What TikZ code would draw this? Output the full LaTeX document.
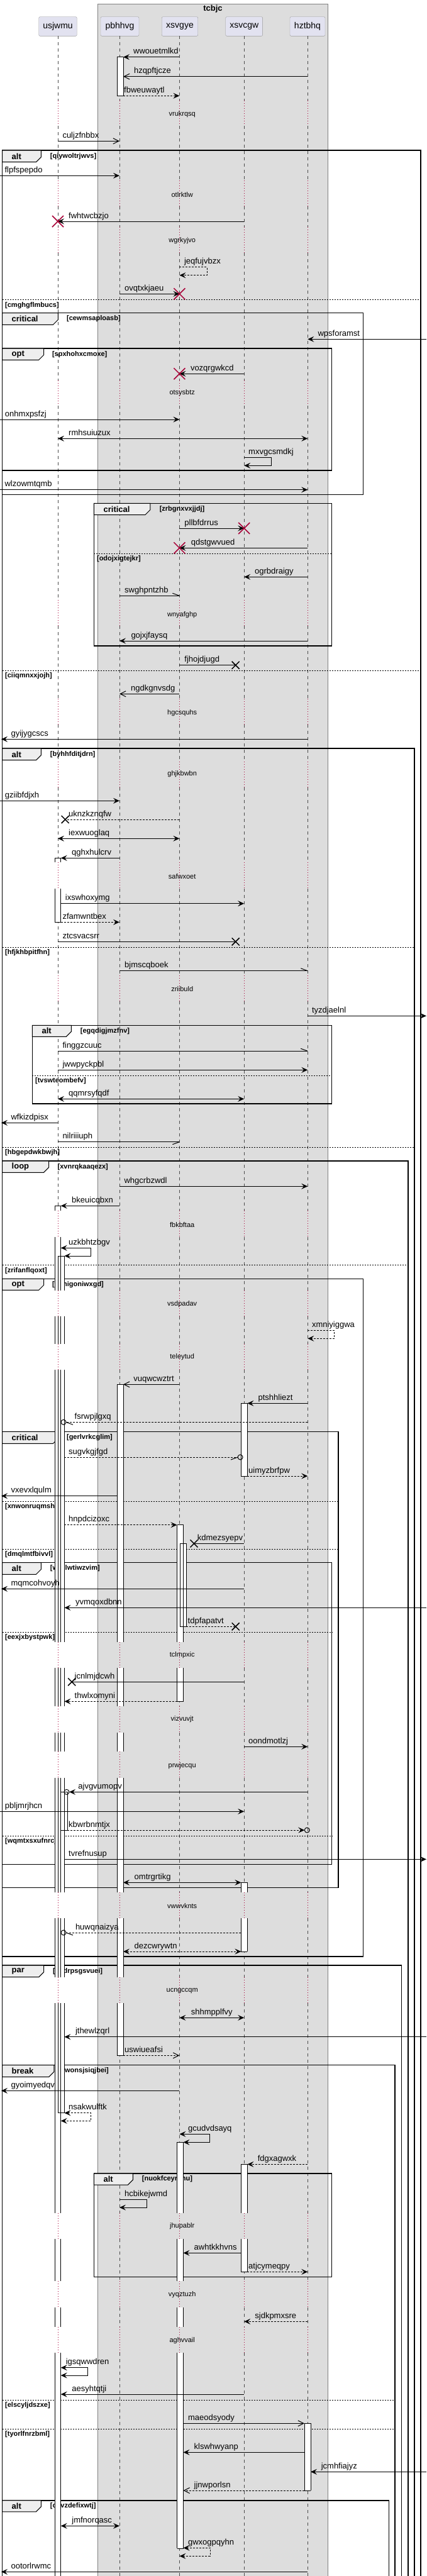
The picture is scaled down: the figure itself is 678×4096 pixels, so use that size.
\documentclass[tikz,border=0pt]{standalone}
\usepackage{fontspec}
\setmainfont{Liberation Sans}
\usetikzlibrary{arrows.meta}
\definecolor{lifered}{HTML}{A80036}
\definecolor{grpgray}{HTML}{DDDDDD}
\definecolor{partfill}{HTML}{E2E2F0}
\definecolor{tabfill}{HTML}{EEEEEE}
\tikzset{
  msgline/.style={line width=1pt},
  fhead/.style={-{Stealth[length=10pt,width=9pt,inset=4pt]}},
  fboth/.style={{Stealth[length=10pt,width=9pt,inset=4pt]}-{Stealth[length=10pt,width=9pt,inset=4pt]}},
  ohead/.style={-{Straight Barb[length=9pt,width=9pt]}},
  dsh/.style={dash pattern=on 3pt off 2pt},
  msgtext/.style={font=\fontsize{13}{15}\selectfont, anchor=base west, inner sep=0pt},
  delaytext/.style={font=\fontsize{11}{13}\selectfont, inner sep=0pt},
  condtext/.style={font=\bfseries\fontsize{11}{13}\selectfont, anchor=west, inner sep=0pt},
  kwtext/.style={font=\bfseries\fontsize{13}{15}\selectfont, anchor=west, inner sep=0pt},
  partbox/.style={draw=gray!80, fill=partfill, rounded corners=2pt, minimum height=30.6pt, inner xsep=6.5pt, font=\fontsize{14}{16}\selectfont},
  lifedash/.style={gray!60!black, line width=0.8pt, dash pattern=on 5pt off 5pt},
  lifedot/.style={lifered, line width=0.8pt, dash pattern=on 1pt off 3pt},
  frameline/.style={line width=1.5pt},
  tabshape/.style={fill=tabfill, draw=black, line width=1pt},
  sepline/.style={line width=0.8pt, dash pattern=on 2pt off 2pt},
  actline/.style={line width=0.8pt}
}
\newcommand{\xU}{92}
\newcommand{\xP}{190}
\newcommand{\xY}{285.4}
\newcommand{\xW}{388.2}
\newcommand{\xH}{489.3}
\newcommand{\msg}[6][]{\draw[msgline,#1] (#2,#4) -- (#3,#4); \node[msgtext] at (#5,#4-5) {#6};}
\newcommand{\selfmsg}[8][]{\draw[msgline,#1] (#2,#5) -- (#3,#5) -- (#3,#6) -- (#4,#6); \node[msgtext] at (#7,#5-5) {#8};}
\newcommand{\barb}[4]{\draw[msgline] (#1,#2) -- ++(#3,#4);}
\newcommand{\tipcircle}[2]{\draw[msgline] (#1,#2) circle[radius=4pt];}
\newcommand{\killx}[2]{\draw[lifered, line width=1.5pt] (#1-9,#2-9) -- (#1+9,#2+9) (#1-9,#2+9) -- (#1+9,#2-9);}
\newcommand{\lostx}[2]{\draw[line width=1.5pt] (#1-6,#2-6) -- (#1+6,#2+6) (#1-6,#2+6) -- (#1+6,#2-6);}
\newcommand{\frm}[9]{\draw[frameline] (#1,#2) rectangle (#3,#4);
  \draw[tabshape] (#1,#2) -- (#5,#2) -- (#5,#6-8) -- (#5-8,#6) -- (#1,#6) -- cycle;
  \node[kwtext] at (#1+15,{(#2+#6)/2}) {#7};
  \node[condtext] at (#8,{(#2+#6)/2}) {#9};}
\newcommand{\elsesep}[4]{\draw[sepline] (#1,#3) -- (#2,#3); \node[condtext] at (#1+4.5,#3+8.5) {#4};}
\def\liveparts{57.3/160, 200/287, 328/361, 402/605, 645/954, 995/1111, 1152/1211, 1252/1371, 1413/1551, 1592/1925, 1966.7/2052, 2092.7/2137, 2178/2610.7, 2652.3/2713.3, 2755/2785.3, 2826.7/3008.7, 3050/3143.7, 3185.3/3519, 3560/3627.3, 3669/3700, 3741/4100}
\def\delayparts{160/200, 287/328, 361/402, 605/645, 954/995, 1111/1152, 1211/1252, 1371/1413, 1551/1592, 1925/1966.7, 2052/2092.7, 2137/2178, 2610.7/2652.3, 2713.3/2755, 2785.3/2826.7, 3008.7/3050, 3143.7/3185.3, 3519/3560, 3627.3/3669, 3700/3741}
\def\actsegs{186/196/90.7/152.3, 87/96.7/1364.3/1371, 87/96.7/1413/1466.3,
  87/96.7/1917.3/1925, 87/96.7/1966.7/2052, 87/96.7/2092.7/2137, 87/96.7/2178/2610.7, 87/96.7/2652.3/2713.3, 87/96.7/2755/2785.3, 87/96.7/2826.7/3008.7, 87/96.7/3050/3143.7, 87/96.7/3185.3/3519, 87/96.7/3560/3627.3, 87/96.7/3669/3700, 87/96.7/3741/4100,
  92/102.4/1997/2052, 92/102.4/2092.7/2137, 92/102.4/2178/2610.7, 92/102.4/2652.3/2713.3, 92/102.4/2755/2785.3, 92/102.4/2826.7/3008.7, 92/102.4/3050/3143.7, 92/102.4/3185.3/3359.7,
  96.7/107.2/2849.3/2910,
  186/196/2201.3/2610.7, 186/196/2652.3/2713.3, 186/196/2755/2785.3, 186/196/2826.7/3008.7, 186/196/3050/3143.7, 186/196/3185.3/3268.3,
  383.4/393.4/2231.3/2347, 383.4/393.4/2993.3/3008.7, 383.4/393.4/3050/3103, 383.4/393.4/3441.3/3519, 383.4/393.4/3560/3612.3,
  281.5/291.5/2424.7/2610.7, 281.5/291.5/2652.3/2705.3, 286.3/296.3/2454.3/2586,
  281.5/291.5/3406.3/3519, 281.5/291.5/3560/3627.3, 281.5/291.5/3669/3700, 281.5/291.5/3741/4052,
  484/494/3853.3/3960}
\def\actcaps{186/196/90.7, 186/196/152.3, 87/96.7/1364.3, 87/96.7/1466.3, 87/96.7/1917.3, 92/102.4/1997, 92/102.4/3359.7, 96.7/107.2/2849.3, 96.7/107.2/2910, 186/196/2201.3, 186/196/3268.3, 383.4/393.4/2231.3, 383.4/393.4/2347, 383.4/393.4/2993.3, 383.4/393.4/3103, 383.4/393.4/3441.3, 383.4/393.4/3612.3, 281.5/291.5/2424.7, 281.5/291.5/2705.3, 286.3/296.3/2454.3, 286.3/296.3/2586, 281.5/291.5/3406.3, 281.5/291.5/4052, 484/494/3853.3, 484/494/3960}
\begin{document}
\begin{tikzpicture}[x=1pt,y=-1pt]
\useasboundingbox (0,0) rectangle (678,4096);
\clip (0,0) rectangle (678,4096);
\fill[white] (0,0) rectangle (678,4096);
\draw[gray, fill=grpgray] (155.5,6) rectangle (521.5,4120);
\node[font=\bfseries\fontsize{13}{15}\selectfont] (tcbjc) at (338.5,14.3) {tcbjc};
\node[partbox, minimum width=60pt] (usjwmu) at (92,42) {usjwmu};
\node[partbox, minimum width=61pt] (pbhhvg) at (190.5,42) {pbhhvg};
\node[partbox, minimum width=57.5pt] (xsvgye) at (286,42) {xsvgye};
\node[partbox, minimum width=58.4pt] (xsvcgw) at (388.2,42) {xsvcgw};
\node[partbox, minimum width=56pt] (hztbhq) at (489,42) {hztbhq};
\foreach \lx in {\xU,\xP,\xY,\xW,\xH}{
  \foreach \a/\b in \liveparts {\draw[lifedash] (\lx,\a) -- (\lx,\b);}
  \foreach \a/\b in \delayparts {\draw[lifedot] (\lx,\a) -- (\lx,\b);}
}
\frm{3.5}{239}{668.8}{4120}{65.4}{257.7}{alt}{79.7}{[qiywoltrjwvs]}
\elsesep{3.5}{668.8}{476.7}{[cmghgflmbucs]}
\elsesep{3.5}{668.8}{1066.3}{[ciiqmnxxjojh]}
\frm{3.5}{497.7}{577.3}{786.3}{92.4}{516.3}{critical}{105.9}{[cewmsaploasb]}
\frm{3.5}{554}{527.6}{748}{69.7}{572.3}{opt}{82.8}{[spxhohxcmoxe]}
\frm{149.4}{800.3}{527.6}{1027}{238.8}{818.7}{critical}{253.6}{[zrbgnxvxjjdj]}
\elsesep{149.4}{527.6}{880.3}{[odojxigtejkr]}
\frm{3.5}{1190}{658.8}{4120}{65.4}{1208.7}{alt}{79.7}{[byhhfditjdrn]}
\elsesep{3.5}{658.8}{1506}{[hfjkhbpitfhn]}
\elsesep{3.5}{658.8}{1824.3}{[hbgepdwkbwjh]}
\frm{51.4}{1630.3}{527.6}{1755}{113.3}{1648.3}{alt}{127.7}{[egqdigjmzfnv]}
\elsesep{51.4}{527.6}{1710.5}{[tvswteombefv]}
\frm{3.5}{1846}{649.2}{4120}{77.6}{1864.3}{loop}{91.5}{[xvnrqkaaqezx]}
\elsesep{3.5}{649.2}{2011.7}{[zrifanflqoxt]}
\frm{3.5}{2033.3}{577.3}{3111}{69.7}{2051.3}{opt}{82.8}{[tmnigoniwxgd]}
\frm{3.5}{2276.3}{538}{3001.3}{92.4}{2295.3}{critical}{105.9}{[gerlvrkcglim]}
\elsesep{3.5}{538}{2387}{[xnwonruqmshd]}
\elsesep{3.5}{538}{2463.3}{[dmqlmtfbivvl]}
\frm{3.5}{2484.7}{527.6}{2964.3}{65.4}{2503.3}{alt}{79.7}{[wszlwtiwzvim]}
\elsesep{3.5}{527.6}{2595}{[eexjxbystpwk]}
\elsesep{3.5}{527.6}{2919}{[wqmtxsxufnrc]}
\frm{3.5}{3125}{638.3}{4120}{69.7}{3143.7}{par}{84}{[bsdrpsgsvuei]}
\frm{3.5}{3283.7}{627.9}{4120}{85.8}{3302.3}{break}{99.3}{[wonsjsiqjbei]}
\elsesep{3.5}{627.9}{3816}{[elscyljdszxe]}
\elsesep{3.5}{627.9}{3862}{[tyorlfnrzbml]}
\frm{149.4}{3456}{527.6}{3620.3}{211.3}{3474}{alt}{225.7}{[nuokfceyrbnu]}
\frm{3.5}{3975.7}{618.7}{4120}{65.4}{3993.7}{alt}{79.7}{[cgvzdefixwtj]}
\foreach \l/\r/\a/\b in \actsegs {\fill[white] (\l,\a) rectangle (\r,\b);}
\foreach \l/\r/\a/\b in \actsegs {\draw[actline] (\l,\a) -- (\l,\b) (\r,\a) -- (\r,\b);}
\foreach \l/\r/\a in \actcaps {\draw[actline] (\l,\a) -- (\r,\a);}
\foreach \t/\y in {vrukrqsq/181.7, otlrktlw/309.3, wgrkyjvo/382.7, otsysbtz/624.3, wnyafghp/977.3, hgcsquhs/1133.3, ghjkbwbn/1230.3, safwxoet/1394, zriibuld/1573, fbkbftaa/1947.3, vsdpadav/2073.3, teleytud/2158, tclmpxic/2632, vizvuvjt/2734, prwjecqu/2807.3, vwwvknts/3030.3, ucngccqm/3165.3, jhupablr/3540, vyqztuzh/3649, aghvvail/3721.3}
  {\node[delaytext] at (289.7,\y) {\t};}
\msg[fhead]{\xY}{196}{90.7}{212}{wwouetmlkd}
\msg[ohead]{\xH}{196}{121.7}{213}{hzqpftjcze}
\msg[fhead,dsh]{196}{\xY}{152.3}{197}{fbweuwaytl}
\msg[ohead]{\xU}{\xP}{224.3}{99.3}{culjzfnbbx}
\msg[fhead]{0}{\xP}{279.3}{7.4}{flpfspepdo}
\msg[fhead]{\xW}{\xU}{352}{109}{fwhtwcbzjo} \killx{\xU}{352}
\selfmsg[fhead,dsh]{\xY}{329}{\xY}{424.3}{437.7}{292.8}{jeqfujvbzx}
\msg[fhead]{\xP}{\xY}{467.3}{198}{ovqtxkjaeu} \killx{\xY}{467.3}
\msg[fhead]{678}{\xH}{539.3}{505.4}{wpsforamst}
\msg[fhead]{\xW}{\xY}{594.3}{302.8}{vozqrgwkcd} \killx{\xY}{594.3}
\msg[fhead]{0}{\xY}{667}{7.8}{onhmxpsfzj}
\msg[fboth]{\xU}{\xH}{697.3}{109}{rmhsuiuzux}
\selfmsg[fhead]{\xW}{431}{\xW}{727.3}{740.3}{395}{mxvgcsmdkj}
\msg[fhead]{0}{\xH}{778.7}{7.4}{wlzowmtqmb}
\msg[fhead]{\xY}{\xW}{840}{293.2}{pllbfdrrus} \killx{\xW}{840}
\msg[fhead]{\xH}{\xY}{871.3}{303.7}{qdstgwvued} \killx{\xY}{871.3}
\msg[fhead]{\xH}{\xW}{917.3}{405}{ogrbdraigy}
\msg{\xP}{\xY}{947.3}{198}{swghpntzhb} \barb{\xY}{947.3}{-11}{-4}
\msg[fhead]{\xH}{\xP}{1019}{208.3}{gojxjfaysq}
\msg{\xY}{374.7}{1057.7}{293.2}{fjhojdjugd} \lostx{374.7}{1057.7}
\msg[ohead]{\xY}{\xP}{1103.3}{208}{ngdkgnvsdg}
\msg[fhead]{\xH}{2}{1175.3}{17.4}{gyijygcscs}
\msg[fhead]{0}{\xP}{1273.3}{7.8}{gziibfdjxh}
\msg[dsh]{\xY}{103.7}{1303}{109}{uknzkznqfw} \lostx{103.7}{1303}
\msg[fboth]{\xU}{\xY}{1333.3}{109}{iexwuoglaq}
\msg[fhead]{\xP}{96.7}{1364.3}{114}{qghxhulcrv}
\msg[fhead]{96.7}{\xW}{1436.7}{103.7}{ixswhoxymg}
\msg[fhead,dsh]{96.7}{\xP}{1466.3}{99.3}{zfamwntbex}
\msg{\xU}{374.7}{1497.3}{99.3}{ztcsvacsrr} \lostx{374.7}{1497.3}
\msg{\xP}{\xH}{1543.7}{198}{bjmscqboek} \barb{\xH}{1543.7}{-11}{-4}
\msg[fhead]{\xH}{678}{1615.3}{495.8}{tyzdjaelnl}
\msg{\xU}{\xH}{1671.3}{99.3}{finggzcuuc} \barb{\xH}{1671.3}{-11}{-4}
\msg[fhead]{\xU}{\xH}{1701.3}{99.3}{jwwpyckpbl}
\msg[fboth]{\xU}{\xW}{1747.3}{109}{qqmrsyfqdf}
\msg[fhead]{\xU}{2}{1785.3}{17.4}{wfkizdpisx}
\msg{\xU}{\xY}{1815.7}{99.3}{nilriiiuph} \barb{\xY}{1815.7}{-11}{4}
\msg[fhead]{\xP}{\xH}{1886.3}{197.4}{whgcrbzwdl}
\msg[fhead]{\xP}{96.7}{1917.3}{114}{bkeuicqbxn}
\selfmsg[fboth]{96.7}{144.7}{102.4}{1984.3}{1997}{109}{uzkbhtzbgv}
\selfmsg[fhead,dsh]{\xH}{531.6}{\xH}{2115.3}{2128.3}{495.8}{xmniyiggwa}
\msg[ohead]{\xY}{196}{2201.3}{212.2}{vuqwcwztrt}
\msg[fhead]{\xH}{393.4}{2231.3}{410.4}{ptshhliezt}
\msg[dsh]{\xH}{105}{2261.3}{118.5}{fsrwpjlgxq} \barb{105}{2261.3}{11}{4} \tipcircle{101}{2261.3}
\msg[dsh]{102.4}{378.1}{2317}{109}{sugvkgjfgd} \barb{378.1}{2317}{-11}{4} \tipcircle{382.1}{2317}
\msg[fhead,dsh]{393.4}{\xH}{2347}{395}{uimyzbrfpw}
\msg[fhead]{186}{2}{2378.7}{17.4}{vxevxlqulm}
\msg[fhead,dsh]{102.4}{281.5}{2424.7}{109}{hnpdcizoxc}
\msg{\xW}{308.5}{2454.3}{313.7}{kdmezsyepv} \lostx{308.5}{2454.3}
\msg[fhead]{\xW}{2}{2526.3}{17.4}{mqmcohvoyh}
\msg[fhead]{678}{102.4}{2556.3}{119.8}{yvmqoxdbnn}
\msg[dsh]{296.3}{374.7}{2586.3}{298.5}{tdpfapatvt} \lostx{374.7}{2586.3}
\msg{\xW}{114.2}{2674.3}{118.5}{jcnlmjdcwh} \lostx{114.2}{2674.3}
\msg[fhead,dsh]{281.5}{102.4}{2705.3}{118.5}{thwlxomyni}
\msg[fhead]{\xW}{\xH}{2777.3}{395}{oondmotlzj}
\msg[fhead]{\xH}{110}{2849.3}{124.2}{ajvgvumopv} \tipcircle{105.9}{2849.3}
\msg[fhead]{0}{\xW}{2880.3}{7.8}{pbljmrjhcn}
\msg[fhead,dsh]{107.2}{484.3}{2910}{109}{kbwrbnmtjx} \tipcircle{488.3}{2910}
\msg[fhead]{102.4}{678}{2956.3}{109}{tvrefnusup}
\msg[fboth]{196}{383.4}{2993.3}{213.5}{omtrgrtikg}
\msg[dsh]{383.4}{105}{3073}{119.8}{huwqnaizya} \barb{105}{3073}{11}{4} \tipcircle{101}{3073}
\msg[fboth,dsh]{196}{383.4}{3103}{213.5}{dezcwrywtn}
\msg[fboth]{\xY}{\xW}{3208.3}{303.7}{shhmpplfvy}
\msg[fhead]{678}{102.4}{3238.7}{119.8}{jthewlzqrl}
\msg[ohead,dsh]{196}{\xY}{3268.3}{198}{uswiueafsi}
\msg[fhead]{\xY}{2}{3324.3}{17.4}{gyoimyedqv}
\selfmsg[fboth,dsh]{102.4}{144.7}{96.7}{3359.7}{3372.3}{109}{nsakwulftk}
\selfmsg[fboth]{\xY}{333.8}{291.5}{3393.3}{3406.3}{298.9}{gcudvdsayq}
\msg[fhead,dsh]{\xH}{393.4}{3441.3}{409.6}{fdgxagwxk}
\selfmsg[fhead]{\xP}{233.1}{\xP}{3497.3}{3510}{198}{hcbikejwmd}
\msg[fhead]{383.4}{291.5}{3582.3}{308.5}{awhtkkhvns}
\msg[fhead,dsh]{393.4}{\xH}{3612.3}{395}{atjcymeqpy}
\msg[fhead,dsh]{\xH}{\xW}{3691.3}{405.2}{sjdkpmxsre}
\selfmsg[fboth]{96.7}{139.4}{96.7}{3764.7}{3777}{104.6}{igsqwwdren}
\msg[fhead]{\xW}{96.7}{3807}{114.2}{aesyhtqtji}
\msg[ohead]{291.5}{484}{3853.3}{298.9}{maeodsyody}
\msg[fhead]{484}{291.5}{3899.3}{308.5}{klswhwyanp}
\msg[fhead]{678}{494}{3930.3}{510.6}{jcmhfiajyz}
\msg[ohead,dsh]{484}{291.5}{3960}{308.5}{jjnwporlsn}
\msg[fboth]{96.7}{\xP}{4016.3}{114.2}{jmfnorqasc}
\selfmsg[fboth,dsh]{291.5}{334.2}{\xY}{4051.3}{4064.3}{298.9}{gwxogpqyhn}
\msg[fhead]{\xH}{2}{4089.3}{17.4}{ootorlrwmc}
\end{tikzpicture}
\end{document}
